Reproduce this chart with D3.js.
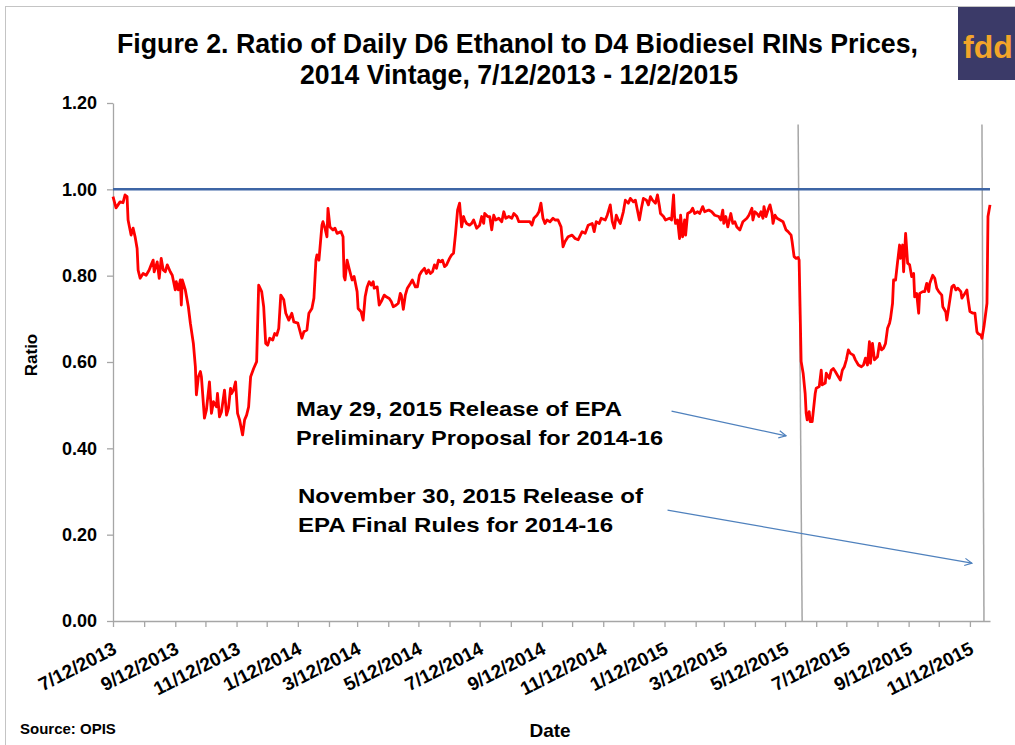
<!DOCTYPE html>
<meta charset="utf-8">
<style>
body { margin: 0; background: #fff; }
svg { display: block; font-family: "Liberation Sans", Arial, sans-serif; }
.axis path, .axis line { stroke: #a6a6a6; stroke-width: 1.3px; }
.axis text { font-weight: bold; fill: #000; }
.rin { fill: none; stroke: #ff0000; stroke-width: 2.8px; stroke-linejoin: round; }
.ref { stroke: #3d65a5; stroke-width: 2.5px; }
.event { stroke: #a6a6a6; stroke-width: 1.5px; }
.note { font-weight: bold; fill: #000; }
.arrow { stroke: #4f81bd; stroke-width: 1.3px; fill: none; }
</style>
<body>
<script src="https://d3js.org/d3.v7.min.js"></script>
<script>

// daily D6/D4 ratio
var dates = [
  "2013-07-12","2013-07-15","2013-07-17","2013-07-19","2013-07-22","2013-07-24","2013-07-26","2013-07-27","2013-07-30","2013-08-01",
  "2013-08-03","2013-08-05","2013-08-06","2013-08-08","2013-08-11","2013-08-14","2013-08-17","2013-08-19","2013-08-21","2013-08-22",
  "2013-08-25","2013-08-27","2013-08-29","2013-08-31","2013-09-02","2013-09-04","2013-09-07","2013-09-09","2013-09-12","2013-09-13",
  "2013-09-15","2013-09-17","2013-09-18","2013-09-19","2013-09-22","2013-09-25","2013-09-27","2013-09-30","2013-10-02","2013-10-03",
  "2013-10-05","2013-10-07","2013-10-08","2013-10-11","2013-10-13","2013-10-16","2013-10-18","2013-10-20","2013-10-23","2013-10-24",
  "2013-10-26","2013-10-28","2013-10-31","2013-11-02","2013-11-04","2013-11-06","2013-11-07","2013-11-09","2013-11-11","2013-11-13",
  "2013-11-15","2013-11-18","2013-11-20","2013-11-22","2013-11-24","2013-11-26","2013-11-29","2013-12-02","2013-12-04","2013-12-07",
  "2013-12-09","2013-12-11","2013-12-13","2013-12-15","2013-12-18","2013-12-20","2013-12-22","2013-12-24","2013-12-26","2013-12-29",
  "2013-12-31","2014-01-03","2014-01-06","2014-01-08","2014-01-12","2014-01-16","2014-01-18","2014-01-21","2014-01-23","2014-01-26",
  "2014-01-28","2014-01-30","2014-01-31","2014-02-02","2014-02-05","2014-02-06","2014-02-08","2014-02-10","2014-02-11","2014-02-13",
  "2014-02-16","2014-02-18","2014-02-20","2014-02-24","2014-02-26","2014-02-27","2014-02-28","2014-03-02","2014-03-04","2014-03-07",
  "2014-03-09","2014-03-12","2014-03-13","2014-03-16","2014-03-18","2014-03-20","2014-03-22","2014-03-24","2014-03-26","2014-03-28",
  "2014-03-29","2014-04-01","2014-04-03","2014-04-05","2014-04-08","2014-04-10","2014-04-13","2014-04-15","2014-04-17","2014-04-20",
  "2014-04-22","2014-04-24","2014-04-25","2014-04-27","2014-04-29","2014-05-01","2014-05-04","2014-05-06","2014-05-09","2014-05-11",
  "2014-05-13","2014-05-15","2014-05-18","2014-05-20","2014-05-22","2014-05-24","2014-05-26","2014-05-28","2014-05-30","2014-06-01",
  "2014-06-03","2014-06-05","2014-06-07","2014-06-09","2014-06-12","2014-06-14","2014-06-16","2014-06-18","2014-06-20","2014-06-22",
  "2014-06-24","2014-06-26","2014-06-27","2014-06-29","2014-07-02","2014-07-04","2014-07-06","2014-07-09","2014-07-12","2014-07-14",
  "2014-07-16","2014-07-17","2014-07-20","2014-07-22","2014-07-24","2014-07-26","2014-07-28","2014-07-31","2014-08-03","2014-08-05",
  "2014-08-07","2014-08-10","2014-08-13","2014-08-15","2014-08-18","2014-08-20","2014-08-24","2014-08-28","2014-08-31","2014-09-02",
  "2014-09-04","2014-09-07","2014-09-09","2014-09-11","2014-09-13","2014-09-15","2014-09-17","2014-09-20","2014-09-23","2014-09-25",
  "2014-09-28","2014-10-01","2014-10-03","2014-10-05","2014-10-08","2014-10-12","2014-10-15","2014-10-18","2014-10-22","2014-10-25",
  "2014-10-28","2014-11-01","2014-11-03","2014-11-05","2014-11-08","2014-11-10","2014-11-14","2014-11-16","2014-11-19","2014-11-21",
  "2014-11-23","2014-11-25","2014-11-27","2014-11-29","2014-12-02","2014-12-04","2014-12-07","2014-12-09","2014-12-12","2014-12-14",
  "2014-12-16","2014-12-18","2014-12-20","2014-12-22","2014-12-25","2014-12-27","2014-12-29","2014-12-31","2015-01-03","2015-01-05",
  "2015-01-07","2015-01-08","2015-01-11","2015-01-13","2015-01-17","2015-01-19","2015-01-21","2015-01-22","2015-01-23","2015-01-25",
  "2015-01-27","2015-01-28","2015-01-30","2015-02-01","2015-02-02","2015-02-04","2015-02-07","2015-02-09","2015-02-11","2015-02-14",
  "2015-02-16","2015-02-19","2015-02-21","2015-02-25","2015-02-28","2015-03-03","2015-03-07","2015-03-09","2015-03-11","2015-03-12",
  "2015-03-14","2015-03-16","2015-03-19","2015-03-21","2015-03-23","2015-03-25","2015-03-28","2015-03-31","2015-04-02","2015-04-04",
  "2015-04-06","2015-04-09","2015-04-10","2015-04-12","2015-04-14","2015-04-16","2015-04-18","2015-04-20","2015-04-21","2015-04-23",
  "2015-04-25","2015-04-27","2015-04-29","2015-04-30","2015-05-02","2015-05-04","2015-05-07","2015-05-10","2015-05-13","2015-05-15",
  "2015-05-18","2015-05-19","2015-05-21","2015-05-23","2015-05-25","2015-05-26","2015-05-28","2015-05-30","2015-06-01","2015-06-02",
  "2015-06-03","2015-06-05","2015-06-06","2015-06-08","2015-06-11","2015-06-12","2015-06-15","2015-06-17","2015-06-18","2015-06-21",
  "2015-06-22","2015-06-25","2015-06-27","2015-06-29","2015-07-01","2015-07-03","2015-07-06","2015-07-08","2015-07-10","2015-07-12",
  "2015-07-14","2015-07-16","2015-07-19","2015-07-21","2015-07-24","2015-07-27","2015-07-29","2015-07-31","2015-08-02","2015-08-04",
  "2015-08-05","2015-08-07","2015-08-09","2015-08-12","2015-08-14","2015-08-16","2015-08-18","2015-08-20","2015-08-22","2015-08-24",
  "2015-08-25","2015-08-27","2015-08-28","2015-08-30","2015-09-01","2015-09-03","2015-09-04","2015-09-06","2015-09-07","2015-09-09",
  "2015-09-11","2015-09-13","2015-09-15","2015-09-17","2015-09-18","2015-09-20","2015-09-22","2015-09-23","2015-09-26","2015-09-28",
  "2015-09-30","2015-10-02","2015-10-03","2015-10-06","2015-10-08","2015-10-10","2015-10-12","2015-10-15","2015-10-16","2015-10-19",
  "2015-10-20","2015-10-22","2015-10-25","2015-10-27","2015-10-29","2015-10-31","2015-11-03","2015-11-04","2015-11-06","2015-11-09",
  "2015-11-10","2015-11-12","2015-11-15","2015-11-17","2015-11-19","2015-11-20","2015-11-23","2015-11-24","2015-11-26","2015-11-29",
  "2015-11-30","2015-12-02"
];

var ratios = [
  .983,.957,.964,.971,.969,.987,.983,.929,.894,.910,
  .890,.863,.813,.794,.805,.801,.813,.825,.836,.809,
  .832,.794,.840,.813,.809,.825,.809,.801,.767,.786,
  .767,.790,.732,.790,.767,.728,.690,.643,.589,.524,
  .566,.578,.566,.470,.489,.554,.481,.508,.496,.527,
  .473,.485,.535,.477,.493,.539,.527,.535,.554,.481,
  .466,.431,.466,.477,.496,.566,.585,.601,.778,.763,
  .728,.643,.639,.655,.651,.666,.662,.678,.755,.744,
  .713,.697,.713,.693,.690,.655,.670,.674,.713,.724,
  .748,.836,.848,.836,.917,.925,.910,.890,.956,.913,
  .906,.910,.898,.902,.890,.798,.790,.836,.817,.790,
  .798,.763,.724,.716,.697,.751,.774,.786,.778,.786,
  .771,.774,.732,.740,.755,.751,.747,.740,.728,.732,
  .736,.759,.755,.722,.755,.771,.782,.790,.774,.774,
  .801,.809,.817,.805,.813,.805,.809,.825,.817,.836,
  .832,.836,.821,.825,.840,.848,.852,.898,.952,.968,
  .913,.937,.929,.921,.917,.921,.929,.910,.917,.937,
  .921,.944,.937,.937,.906,.940,.929,.933,.925,.948,
  .933,.937,.933,.944,.937,.925,.925,.925,.925,.917,
  .933,.940,.948,.968,.933,.921,.929,.925,.933,.929,
  .929,.913,.867,.879,.890,.894,.886,.883,.902,.898,
  .917,.921,.902,.925,.921,.933,.929,.940,.964,.925,
  .910,.940,.929,.921,.948,.975,.968,.979,.971,.975,
  .952,.929,.956,.979,.975,.964,.983,.975,.968,.987,
  .960,.944,.937,.929,.933,.929,.987,.937,.921,.929,
  .886,.940,.890,.929,.894,.944,.948,.956,.944,.948,
  .944,.960,.948,.952,.948,.940,.937,.929,.952,.921,
  .937,.913,.944,.921,.925,.913,.906,.925,.929,.933,
  .940,.956,.929,.948,.944,.937,.948,.933,.960,.937,
  .952,.964,.944,.921,.940,.933,.929,.925,.906,.902,
  .894,.879,.844,.840,.842,.836,.601,.574,.527,.481,
  .466,.485,.462,.462,.527,.539,.543,.581,.547,.551,
  .574,.562,.581,.585,.578,.570,.558,.581,.589,.605,
  .628,.620,.616,.605,.593,.589,.593,.609,.593,.647,
  .597,.643,.605,.612,.643,.628,.632,.643,.678,.690,
  .701,.736,.790,.790,.832,.871,.840,.871,.809,.898,
  .829,.825,.798,.805,.751,.759,.713,.759,.763,.763,
  .782,.763,.782,.801,.794,.771,.763,.755,.728,.716,
  .697,.728,.774,.778,.767,.771,.763,.748,.755,.767,
  .748,.717,.713,.713,.670,.666,.662,.655,.682,.736,
  .937,.964
];

var yTickValues = [0, 0.2, 0.4, 0.6, 0.8, 1.0, 1.2];
var xTickLabels = ["7/12/2013","9/12/2013","11/12/2013","1/12/2014","3/12/2014","5/12/2014","7/12/2014",
  "9/12/2014","11/12/2014","1/12/2015","3/12/2015","5/12/2015","7/12/2015","9/12/2015","11/12/2015"];
var dateRange = ["2013-07-12", "2015-12-02"];
var parityLevel = 1.0;

// hand-drawn marker lines (bottom date, top date, top value)
var eventBottom = ["2015-05-29", "2015-11-26"];
var eventTop = ["2015-05-25", "2015-11-24"];
var eventHeight = 1.15;

// annotation arrows, [date, ratio] start and end
var arrowStart = [["2015-01-19", 0.486], ["2015-01-15", 0.257]];
var arrowEnd = [["2015-05-13", 0.429], ["2015-11-14", 0.134]];

var titleLines = ["Figure 2. Ratio of Daily D6 Ethanol to D4 Biodiesel RINs Prices,",
                  "2014 Vintage, 7/12/2013 - 12/2/2015"];
var noteLines = ["May 29, 2015 Release of EPA", "Preliminary Proposal for 2014-16",
                 "November 30, 2015 Release of", "EPA Final Rules for 2014-16"];

var W = 1015, H = 745;
var parseDate = d3.timeParse("%Y-%m-%d");
var parseLabel = d3.timeParse("%m/%d/%Y");

var data = dates.map(function(d, i) { return {date: parseDate(d), v: ratios[i]}; });

var svg = d3.select("body").append("svg")
    .attr("width", W)
    .attr("height", H);

// frame
svg.append("rect")
    .attr("x", 5.5).attr("y", 6.5)
    .attr("width", 1100).attr("height", 1000)
    .attr("fill", "none")
    .attr("stroke", "#c4c4c4");

var x = d3.scaleTime()
    .domain(dateRange.map(parseDate))
    .range([113, 990]);
var y = d3.scaleLinear()
    .domain([0, 1.2])
    .range([621, 103]);

// monthly ticks on the 12th
var start = parseDate(dateRange[0]);
var monthTicks = d3.range(29).map(function(i) { return d3.timeMonth.offset(start, i); });

svg.append("g")
    .attr("class", "axis")
    .attr("transform", "translate(0,621)")
    .call(d3.axisBottom(x).tickValues(monthTicks).tickSize(6).tickSizeOuter(0).tickFormat(""));

svg.append("g")
    .attr("class", "axis")
    .attr("transform", "translate(113,0)")
    .call(d3.axisLeft(y).tickValues(yTickValues).tickSize(6).tickSizeOuter(0)
          .tickPadding(10).tickFormat(d3.format(".2f")))
    .selectAll("text")
    .style("font-size", "18px");

svg.selectAll(".xlab")
    .data(xTickLabels)
  .enter().append("text")
    .attr("class", "xlab note")
    .attr("text-anchor", "end")
    .style("font-size", "19px")
    .attr("transform", function(d) {
      return "translate(" + (x(parseLabel(d)) + 5) + ",653) rotate(-27)";
    })
    .text(function(d) { return d; });

// marker lines
svg.selectAll(".event")
    .data(eventBottom)
  .enter().append("line")
    .attr("class", "event")
    .attr("x1", function(d) { return x(parseDate(d)); })
    .attr("y1", y(0))
    .attr("x2", function(d, i) { return x(parseDate(eventTop[i])); })
    .attr("y2", y(eventHeight));

// parity line
svg.append("line")
    .attr("class", "ref")
    .attr("x1", x(parseDate(dateRange[0])))
    .attr("x2", x(parseDate(dateRange[1])))
    .attr("y1", y(parityLevel))
    .attr("y2", y(parityLevel));

var valueline = d3.line()
    .x(function(d) { return x(d.date); })
    .y(function(d) { return y(d.v); });

svg.append("path")
    .datum(data)
    .attr("class", "rin")
    .attr("d", valueline);

// arrows
svg.append("defs").append("marker")
    .attr("id", "head")
    .attr("viewBox", "0 0 10 10")
    .attr("refX", 9).attr("refY", 5)
    .attr("markerWidth", 9).attr("markerHeight", 9)
    .attr("markerUnits", "userSpaceOnUse")
    .attr("orient", "auto")
  .append("path")
    .attr("d", "M1,1 L9,5 L1,9")
    .attr("fill", "none")
    .attr("stroke", "#4f81bd")
    .attr("stroke-width", 1.3);

svg.selectAll(".arrow")
    .data(arrowStart)
  .enter().append("line")
    .attr("class", "arrow")
    .attr("x1", function(d) { return x(parseDate(d[0])); })
    .attr("y1", function(d) { return y(d[1]); })
    .attr("x2", function(d, i) { return x(parseDate(arrowEnd[i][0])); })
    .attr("y2", function(d, i) { return y(arrowEnd[i][1]); })
    .attr("marker-end", "url(#head)");

// annotation text
var notePos = [[296, 416, 326], [296, 445, 367], [298, 503, 345], [298, 532, 315]];
svg.selectAll(".ann")
    .data(noteLines)
  .enter().append("text")
    .attr("class", "ann note")
    .attr("x", function(d, i) { return notePos[i][0]; })
    .attr("y", function(d, i) { return notePos[i][1]; })
    .attr("textLength", function(d, i) { return notePos[i][2]; })
    .attr("lengthAdjust", "spacingAndGlyphs")
    .style("font-size", "21px")
    .text(function(d) { return d; });

// title
var titlePos = [[117, 53, 801], [300, 84, 438]];
svg.selectAll(".title")
    .data(titleLines)
  .enter().append("text")
    .attr("class", "title note")
    .attr("x", function(d, i) { return titlePos[i][0]; })
    .attr("y", function(d, i) { return titlePos[i][1]; })
    .attr("textLength", function(d, i) { return titlePos[i][2]; })
    .attr("lengthAdjust", "spacingAndGlyphs")
    .style("font-size", "28px")
    .text(function(d) { return d; });

// axis titles
svg.append("text")
    .attr("class", "note")
    .attr("transform", "translate(37,355) rotate(-90)")
    .attr("text-anchor", "middle")
    .style("font-size", "17px")
    .text("Ratio");

svg.append("text")
    .attr("class", "note")
    .attr("x", 550).attr("y", 737)
    .attr("text-anchor", "middle")
    .style("font-size", "19px")
    .text("Date");

svg.append("text")
    .attr("class", "note")
    .attr("x", 20).attr("y", 734)
    .style("font-size", "15px")
    .text("Source: OPIS");

// logo
svg.append("rect")
    .attr("x", 958).attr("y", 7)
    .attr("width", 60).attr("height", 73)
    .attr("fill", "#3b3a68");
svg.append("text")
    .attr("x", 963).attr("y", 58)
    .attr("fill", "#f2a52a")
    .style("font-size", "32px")
    .style("font-weight", "bold")
    .text("fdd");

</script>
</body>
